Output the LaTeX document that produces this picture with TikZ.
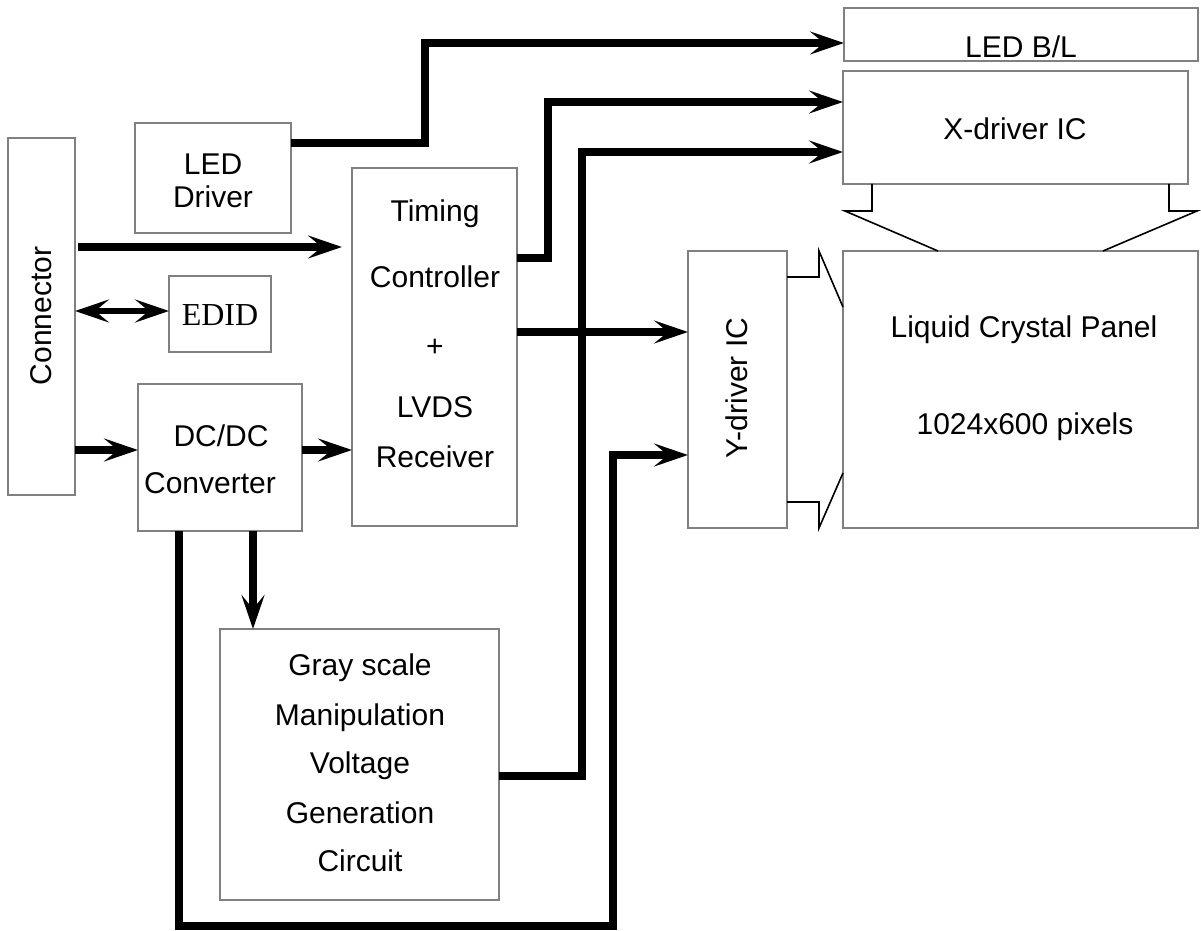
\documentclass[tikz,border=0pt]{standalone}
\usepackage{fontspec}
\setmainfont{Liberation Sans}
\newfontfamily\serifedid{Liberation Serif}
\usetikzlibrary{arrows.meta}
\begin{document}
\begin{tikzpicture}[x=0.5pt,y=-0.5pt,
  box/.style={draw=black!50,line width=1pt,rectangle,inner sep=0pt,outer sep=0pt},
  lbl/.style={inner sep=0pt,anchor=base,font=\fontsize{15}{18}\selectfont},
  conn/.style={line width=4pt,line join=miter},
  trap/.style={line width=0.8pt,line join=miter},
  >={Stealth[length=17pt,width=11.5pt,inset=7pt]}]
\useasboundingbox (0,0) rectangle (1201,931);

% boxes
\node[box,minimum width=33.5pt,minimum height=178.5pt] (conn) at (41.5,316.5) {};
\node[box,minimum width=78pt,minimum height=55pt] (ledd) at (213,178) {};
\node[box,minimum width=51pt,minimum height=38pt] (edid) at (220,314) {};
\node[box,minimum width=82pt,minimum height=73.5pt] (dcdc) at (220,457.5) {};
\node[box,minimum width=82.5pt,minimum height=179pt] (tcon) at (434.5,347) {};
\node[box,minimum width=139.5pt,minimum height=135.5pt] (gray) at (359.5,764.5) {};
\node[box,minimum width=177pt,minimum height=26.5pt] (ledbl) at (1021,34.5) {};
\node[box,minimum width=172.5pt,minimum height=56.5pt] (xdrv) at (1015.5,127.5) {};
\node[box,minimum width=177.5pt,minimum height=138.5pt] (lcd) at (1020.5,389.5) {};
\node[box,minimum width=49.5pt,minimum height=138.5pt] (ydrv) at (737.5,389.5) {};

% labels
\node[lbl,rotate=90] (tconn) at (52,316) {Connector};
\node[lbl] (tled1) at (213,175) {LED};
\node[lbl] (tled2) at (213,208) {Driver};
\node[inner sep=0pt,anchor=base,font=\serifedid\fontsize{16}{19}\selectfont] (tedid) at (220,325) {EDID};
\node[lbl] (tdc1) at (221,446) {DC/DC};
\node[lbl] (tdc2) at (210,493) {Converter};
\node[lbl] (tt1) at (435,221) {Timing};
\node[lbl] (tt2) at (435,287) {Controller};
\node[lbl] (tt3) at (435,357) {+};
\node[lbl] (tt4) at (435,417) {LVDS};
\node[lbl] (tt5) at (435,467) {Receiver};
\node[lbl] (tg1) at (360,675) {Gray scale};
\node[lbl] (tg2) at (360,725) {Manipulation};
\node[lbl] (tg3) at (360,773) {Voltage};
\node[lbl] (tg4) at (360,823) {Generation};
\node[lbl] (tg5) at (360,871) {Circuit};
\node[lbl] (tbl) at (1021,58) {LED B/L};
\node[lbl] (txd) at (1015,140) {X-driver IC};
\node[lbl] (tlc1) at (1024,337) {Liquid Crystal Panel};
\node[lbl] (tlc2) at (1025,434) {1024x600 pixels};
\node[lbl,rotate=90] (tyd) at (747,388) {Y-driver IC};

% trapezoid connections
\draw[trap] (872,184) -- (872,211) -- (845,211) -- (938,251);
\draw[trap] (1169,184) -- (1169,211) -- (1197,211) -- (1103,251);
\draw[trap] (787,277) -- (819,277) -- (819,251) -- (843,307);
\draw[trap] (787,502) -- (819,502) -- (819,528) -- (843,473);

% bend coordinates
\coordinate (b1) at (425,143);
\coordinate (b2) at (425,43);
\coordinate (b3) at (548,258);
\coordinate (b4) at (548,102);
\coordinate (b5) at (582,776);
\coordinate (b6) at (582,152);
\coordinate (b7) at (179,926);
\coordinate (b8) at (613,926);
\coordinate (b9) at (613,455);
\coordinate (c1) at (600,332);
\coordinate (c2) at (253,600);
\coordinate (c3) at (78,247);
\coordinate (c4) at (100,311);
\coordinate (c5) at (100,450);

% connectors
\draw[conn,->] (ledd.east |- b1) -- (b1) -- (b2) -- (ledbl.west |- b2);
\draw[conn,->] (tcon.east |- b3) -- (b3) -- (b4) -- (xdrv.west |- b4);
\draw[conn,->] (gray.east |- b5) -- (b5) -- (b6) -- (xdrv.west |- b6);
\draw[conn,->] (tcon.east |- c1) -- (ydrv.west |- c1);
\draw[conn,->] (dcdc.south -| b7) -- (b7) -- (b8) -- (b9) -- (ydrv.west |- b9);
\draw[conn,->] (dcdc.south -| c2) -- (gray.north -| c2);
\draw[conn,->,shorten >=5pt] (c3) -- (tcon.west |- c3);
\draw[line width=3.2pt,<->] (conn.east |- c4) -- (edid.west |- c4);
\draw[conn,->] (conn.east |- c5) -- (dcdc.west |- c5);
\draw[conn,->] (dcdc.east |- c5) -- (tcon.west |- c5);
\end{tikzpicture}
\end{document}
